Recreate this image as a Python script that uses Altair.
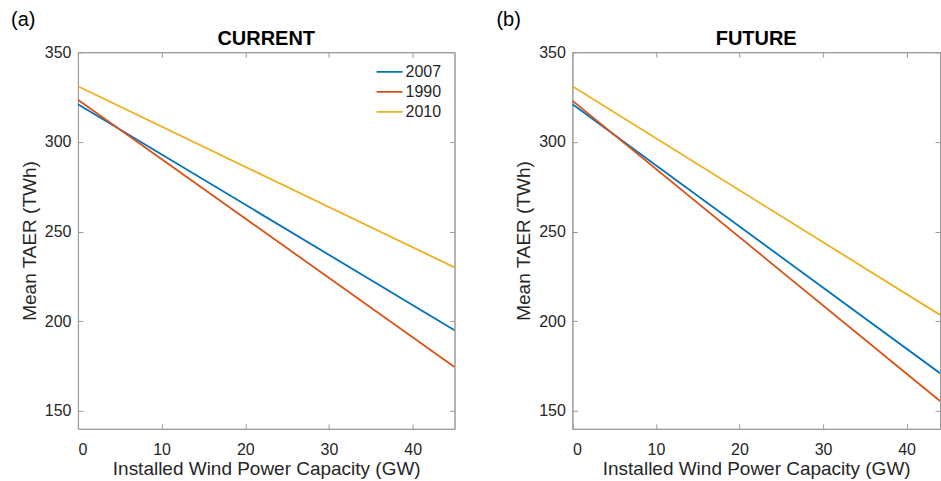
import altair as alt
import pandas as pd

years = ["2007", "1990", "2010"]
colors = ["#0072BD", "#D95319", "#EDB120"]

x_ticks = [0, 10, 20, 30, 40]
y_ticks = [150, 200, 250, 300, 350]

current_x = [0, 45]
current_2007 = [321.0, 195.0]
current_1990 = [323.5, 174.5]
current_2010 = [331.0, 230.0]

future_x = [0, 44]
future_2007 = [321.0, 171.0]
future_1990 = [323.0, 155.5]
future_2010 = [331.0, 203.5]

FONT = "Liberation Sans"
AX = "#9a9a9a"
TXT = "#262626"


def make_df(xs, s2007, s1990, s2010):
    rows = []
    for yr, vals in zip(years, [s2007, s1990, s2010]):
        for xv, yv in zip(xs, vals):
            rows.append({"x": xv, "y": yv, "year": yr})
    return pd.DataFrame(rows)


def panel(df, xmax, width, title, tag, tag_x, show_legend):
    xs = alt.Scale(domain=[0, xmax], nice=False, zero=False)
    ys = alt.Scale(domain=[140, 350], nice=False, zero=False)
    inward = alt.ExprRef(expr="-5")
    base = alt.Chart(df)
    legend = None
    if show_legend:
        legend = alt.Legend(
            orient="none", legendX=298, legendY=10, padding=0,
            title=None, symbolType="stroke", symbolSize=676,
            symbolStrokeWidth=1.8, labelFontSize=16, labelFont=FONT, labelColor=TXT,
            rowPadding=0, clipHeight=19.5, labelOffset=2,
        )
    lines = base.mark_line(strokeWidth=1.8, clip=True).encode(
        x=alt.X("x:Q", scale=xs, axis=alt.Axis(
            orient="bottom", values=x_ticks, title="Installed Wind Power Capacity (GW)",
            tickSize=inward, labelPadding=18, titlePadding=2, grid=False)),
        y=alt.Y("y:Q", scale=ys, axis=alt.Axis(
            orient="left", values=y_ticks, title="Mean TAER (TWh)",
            tickSize=inward, labelPadding=12, titlePadding=5, grid=False)),
        color=alt.Color("year:N", scale=alt.Scale(domain=years, range=colors),
                        sort=years, legend=legend),
    )
    mirror = base.mark_line(opacity=0).encode(
        x=alt.X("x:Q", scale=xs, axis=alt.Axis(
            orient="top", values=x_ticks, labels=False, title=None,
            tickSize=inward, grid=False)),
        y=alt.Y("y:Q", scale=ys, axis=alt.Axis(
            orient="right", values=y_ticks, labels=False, title=None,
            tickSize=inward, grid=False)),
        detail="year:N",
    )
    label = alt.Chart(pd.DataFrame({"t": [tag]})).mark_text(
        fontSize=20, font=FONT, color="#000000", align="left", baseline="alphabetic"
    ).encode(text="t:N", x=alt.value(tag_x), y=alt.value(-26))
    ttl = alt.Chart(pd.DataFrame({"t": [title]})).mark_text(
        fontSize=20, font=FONT, fontWeight="bold", color="#000000",
        align="center", baseline="alphabetic"
    ).encode(text="t:N", x=alt.value(width / 2), y=alt.value(-7))
    return alt.layer(lines, mirror, label, ttl).resolve_axis(
        x="independent", y="independent"
    ).properties(width=width, height=377)


left = panel(make_df(current_x, current_2007, current_1990, current_2010),
             45, 377, "CURRENT", "(a)", -67, True)
right = panel(make_df(future_x, future_2007, future_1990, future_2010),
              44, 368, "FUTURE", "(b)", -76, False)

chart = alt.hconcat(left, right, spacing=40).resolve_scale(
    color="independent"
).resolve_legend(color="independent").properties(
    padding={"left": 10, "top": 9, "right": 0, "bottom": 0},
    background="white",
).configure_view(stroke=AX, strokeWidth=1).configure_axis(
    domainColor=AX, tickColor=AX, labelColor=TXT, titleColor=TXT,
    labelFont=FONT, titleFont=FONT, labelFontSize=16, titleFontSize=19,
    titleFontWeight="normal", domainWidth=1,
)

chart.save("out.html", embed_options={"renderer": "svg", "actions": False})
